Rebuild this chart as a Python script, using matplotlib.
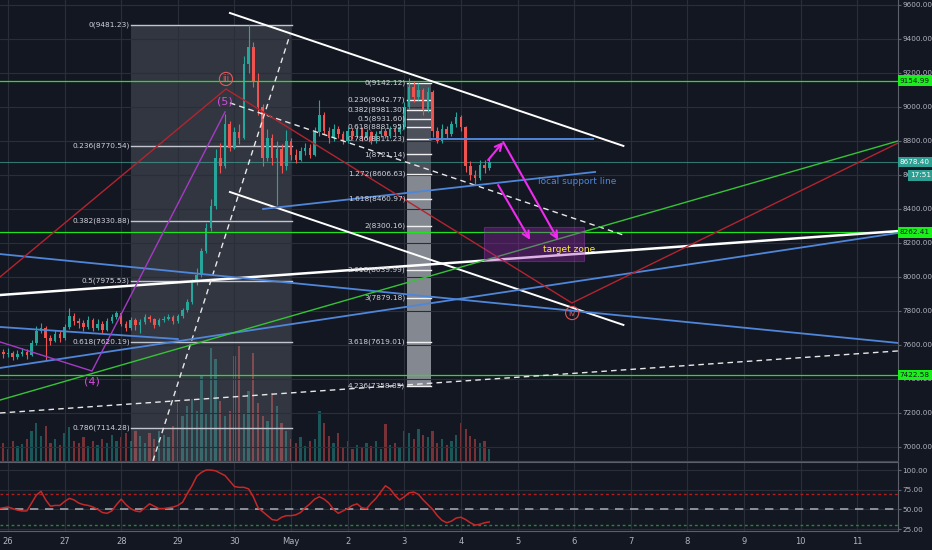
import numpy as np
import matplotlib
matplotlib.use('Agg')
import matplotlib.pyplot as plt
from matplotlib.patches import Rectangle
from matplotlib.transforms import blended_transform_factory

plt.rcParams['font.family'] = ['DejaVu Sans']

# BTC/USD, 2h candles, first candle Apr 25 20:00 (day 0 = Apr 26 00:00)
first_open = 7575
close = [7560, 7545, 7555, 7530, 7548, 7560, 7540, 7610, 7685, 7700,
         7640, 7625, 7665, 7640, 7705, 7770, 7740, 7730, 7705, 7745,
         7700, 7725, 7690, 7740, 7765, 7790, 7725, 7700, 7745, 7715,
         7735, 7765, 7750, 7720, 7745, 7755, 7765, 7740, 7770, 7805,
         7850, 7975, 8010, 8150, 8290, 8420, 8700, 8650, 8900, 8760,
         8850, 8820, 9250, 9350, 9150, 9000, 8700, 8820, 8700, 8750,
         8650, 8800, 8720, 8690, 8740, 8760, 8720, 8850, 8950, 8860,
         8820, 8870, 8840, 8800, 8860, 8830, 8870, 8820, 8850, 8800,
         8840, 8860, 8830, 8870, 8850, 8880, 9000, 9120, 9060, 9100,
         8980, 9090, 8860, 8800, 8870, 8840, 8900, 8940, 8880, 8650,
         8600, 8580, 8660, 8640, 8678]
high = [7600, 7575, 7580, 7565, 7570, 7585, 7575, 7630, 7710, 7730,
        7710, 7660, 7690, 7680, 7725, 7815, 7790, 7760, 7745, 7770,
        7760, 7750, 7740, 7760, 7785, 7800, 7795, 7740, 7765, 7760,
        7750, 7780, 7775, 7760, 7760, 7770, 7780, 7775, 7785, 7820,
        7870, 7990, 8050, 8170, 8320, 8460, 8750, 8790, 8960, 8920,
        8880, 8900, 9300, 9481, 9380, 9200, 9020, 8870, 8840, 8800,
        8780, 8865, 8820, 8750, 8765, 8790, 8780, 8880, 9040, 8970,
        8880, 8900, 8890, 8860, 8880, 8875, 8890, 8880, 8870, 8860,
        8860, 8880, 8875, 8890, 8885, 8900, 9030, 9170, 9150, 9140,
        9110, 9120, 9100, 8880, 8900, 8890, 8920, 8970, 8950, 8890,
        8680, 8630, 8690, 8690, 8700]
low = [7535, 7525, 7530, 7510, 7520, 7535, 7520, 7535, 7600, 7670,
       7510, 7600, 7615, 7620, 7630, 7695, 7720, 7700, 7680, 7695,
       7685, 7690, 7670, 7680, 7730, 7750, 7710, 7680, 7690, 7690,
       7670, 7725, 7735, 7700, 7710, 7735, 7745, 7725, 7730, 7760,
       7795, 7840, 7950, 8000, 8140, 8270, 8400, 8610, 8640, 8740,
       8750, 8780, 8810, 9200, 9120, 8950, 8650, 8680, 8660, 8424,
       8610, 8630, 8690, 8670, 8680, 8720, 8700, 8710, 8830, 8840,
       8790, 8800, 8820, 8780, 8790, 8810, 8820, 8800, 8805, 8780,
       8790, 8825, 8815, 8820, 8830, 8840, 8870, 8990, 9030, 9040,
       8950, 8970, 8823, 8790, 8790, 8820, 8830, 8880, 8860, 8620,
       8570, 8540, 8570, 8610, 8630]
volume = [14, 18, 12, 20, 15, 17, 22, 30, 38, 25,
          35, 18, 22, 16, 28, 34, 20, 18, 24, 15,
          20, 16, 22, 18, 26, 20, 24, 28, 20, 30,
          25, 18, 28, 22, 30, 26, 24, 35, 58, 45,
          55, 62, 50, 85, 48, 113, 102, 60, 45, 50,
          105, 115, 48, 70, 108, 58, 45, 40, 68, 55,
          38, 30, 22, 18, 24, 15, 20, 22, 50, 38,
          25, 18, 28, 14, 20, 12, 16, 14, 18, 15,
          20, 12, 37, 16, 18, 14, 30, 28, 22, 32,
          26, 24, 30, 18, 22, 16, 20, 26, 38, 32,
          25, 22, 18, 20, 12]
rsi = [51, 52, 53, 51, 49, 48, 48, 58, 68, 73,
       62, 54, 55, 55, 60, 64, 62, 58, 56, 55,
       53, 50, 46, 45, 48, 56, 63, 56, 51, 48,
       47, 52, 57, 54, 51, 51, 52, 53, 55, 59,
       70, 80, 92, 97, 100, 100, 99, 96, 93, 86,
       79, 78, 78, 76, 66, 52, 47, 42, 37, 36,
       40, 42, 42, 43, 46, 52, 57, 63, 66, 63,
       58, 50, 45, 48, 51, 55, 57, 52, 51, 58,
       64, 72, 80, 76, 68, 62, 66, 71, 72, 69,
       62, 56, 50, 42, 36, 33, 35, 39, 40, 37,
       33, 30, 31, 33, 34]

date_labels = ['26', '27', '28', '29', '30', 'May', '2', '3', '4', '5',
               '6', '7', '8', '9', '10', '11']
price_ticks = list(range(7000, 9601, 200))
rsi_ticks = [25, 50, 75, 100]

# fib retracement (left) and fib extension (narrow box)
fib1_ratios = ['0', '0.236', '0.382', '0.5', '0.618', '0.786']
fib1_prices = [9481.23, 8770.54, 8330.88, 7975.53, 7620.19, 7114.28]
fib1_days = (2.173, 5.018)
fib1_end = 6469.8
fib2_ratios = ['0', '0.236', '0.382', '0.5', '0.618', '0.786', '1', '1.272',
               '1.618', '2', '2.618', '3', '3.618', '4.236']
fib2_prices = [9142.12, 9042.77, 8981.30, 8931.60, 8881.95, 8811.23, 8721.14,
               8606.63, 8460.97, 8300.16, 8039.99, 7879.18, 7619.01, 7358.85]
fib2_days = (7.05, 7.473)

green_levels = [9154.99, 8262.41, 7422.58]
last_price = 8678.40

# drawings: (day, price) points
white_solid = [[(3.92, 9553), (10.87, 8771)],
               [(3.92, 8500), (10.87, 7718)]]
white_long = [(-0.141, 7894), (15.72, 8270)]
white_dashed = [[(2.56, 6918), (4.98, 9424)],
                [(3.92, 9024), (10.87, 8247)],
                [(-0.141, 7200), (15.72, 7565)]]
blue_lines = [[(-0.141, 8135), (15.72, 7612)],
              [(-0.141, 7706), (3.0, 7635)],
              [(-0.141, 7465), (15.72, 8259)],
              [(4.505, 8400), (10.37, 8618)]]
blue_level = [(7.456, 8811.23), (10.336, 8811.23)]
green_line = [(-0.141, 7276), (15.72, 8800)]
red_wave = [(-0.141, 8000), (3.85, 9106), (9.96, 7847), (15.72, 8788)]
purple_wave = [(-0.141, 7618), (1.484, 7447), (3.834, 8971)]
arrows = [((8.48, 8688), (8.746, 8794)),
          ((8.746, 8794), (9.717, 8218)),
          ((8.657, 8541), (9.223, 8218))]
target_days = (8.41, 10.18)
target_prices = (8094, 8294)

bg = '#131722'
grid_c = '#2a2e39'
txt_c = '#b2b5be'
up_c, dn_c = '#26a69a', '#ef5350'
blue = '#4f86d9'
magenta = '#ee2bee'
axis_fs = 5.2
fib_fs = 5.3

fig = plt.figure(figsize=(9.32, 5.5), dpi=100, facecolor=bg)
rect_main = [0, 89 / 550, 898 / 932, 461 / 550]
ax_vol = fig.add_axes(rect_main)
ax = fig.add_axes(rect_main)
ax_rsi = fig.add_axes([0, 19 / 550, 898 / 932, 69 / 550])

xlim = (-0.141, 15.72)
n = len(close)
t = (np.arange(n) * 2 - 4) / 24.0
opens = np.array([first_open] + close[:-1])
closes = np.array(close)
is_up = closes >= opens
cols = [up_c if u else dn_c for u in is_up]

# volume underneath
ax_vol.set_facecolor(bg)
ax_vol.bar(t, volume, width=0.04, color=cols, alpha=0.45, linewidth=0)
ax_vol.set_xlim(xlim)
ax_vol.set_ylim(0, 461)
ax_vol.axis('off')

# main pane
ax.patch.set_alpha(0)
ax.set_xlim(xlim)
ax.set_ylim(6917.6, 9629.4)
ax.set_xticks(range(16))
ax.set_xticklabels([])
ax.set_yticks(price_ticks)
ax.set_yticklabels(['%.2f' % p for p in price_ticks])
ax.yaxis.tick_right()
ax.tick_params(axis='y', color='#5d606b', labelcolor=txt_c, labelsize=axis_fs, length=2, pad=1)
ax.tick_params(axis='x', length=0)
ax.grid(color=grid_c, lw=0.8, zorder=0)
for s in ['top', 'left']:
    ax.spines[s].set_visible(False)
ax.spines['right'].set_color('#5d606b')
ax.spines['bottom'].set_color('#434651')

# fib retracement box
ax.add_patch(Rectangle((fib1_days[0], fib1_end), fib1_days[1] - fib1_days[0],
                       fib1_prices[0] - fib1_end, facecolor='#b2b5be', alpha=0.2,
                       lw=0, zorder=1))
for r, p in zip(fib1_ratios, fib1_prices):
    ax.plot(fib1_days, [p, p], color='#c3c6ce', lw=1, zorder=2)
    ax.text(fib1_days[0] - 0.02, p, '%s(%.2f)' % (r, p), color='#d1d4dc', fontsize=fib_fs,
            ha='right', va='center', zorder=6)

# fib extension box
ax.add_patch(Rectangle((fib2_days[0], fib2_prices[7]), fib2_days[1] - fib2_days[0],
                       fib2_prices[0] - fib2_prices[7], facecolor='#d1d4dc', alpha=0.3,
                       lw=0, zorder=1))
ax.add_patch(Rectangle((fib2_days[0], fib2_prices[-1]), fib2_days[1] - fib2_days[0],
                       fib2_prices[7] - fib2_prices[-1], facecolor='#d1d4dc', alpha=0.6,
                       lw=0, zorder=1))
for r, p in zip(fib2_ratios, fib2_prices):
    ax.plot(fib2_days, [p, p], color='#f0f0f0', lw=1, zorder=2)
    ax.text(fib2_days[0] - 0.03, p, '%s(%.2f)' % (r, p), color='#d1d4dc', fontsize=fib_fs,
            ha='right', va='center', zorder=6)

# candles
ax.vlines(t, low, high, colors=cols, lw=0.8, zorder=3)
body = np.maximum(np.abs(closes - opens), 6)
ax.bar(t, body, bottom=np.minimum(opens, closes), width=0.045, color=cols, lw=0, zorder=3)

# horizontal levels
for p in green_levels:
    ax.axhline(p, color='#1ee31e', lw=0.9, zorder=4)
ax.axhline(last_price, color='#3f9e94', lw=0.8, alpha=0.7, zorder=2)
ax.plot(*zip(*blue_level), color=blue, lw=1.4, zorder=4)


def draw(pts, **kw):
    xs, ys = zip(*pts)
    ax.plot(xs, ys, zorder=4, **kw)


for ln in white_solid:
    draw(ln, color='white', lw=1.4)
draw(white_long, color='white', lw=1.8)
for ln in white_dashed:
    draw(ln, color='#e8e8e8', lw=1.0, dashes=(4, 3))
for ln in blue_lines:
    draw(ln, color=blue, lw=1.3)
draw(green_line, color='#35c435', lw=1.0)
draw(red_wave, color='#b3242f', lw=1.0)
draw(purple_wave, color='#a53bc4', lw=1.0)

# target zone
ax.add_patch(Rectangle((target_days[0], target_prices[0]), target_days[1] - target_days[0],
                       target_prices[1] - target_prices[0], facecolor='#9c27b0', alpha=0.35,
                       edgecolor='#b04fc8', lw=0.8, zorder=5))
ax.text(9.45, 8159, 'target zone', color='#ffeb3b', fontsize=6.5, ha='left', va='center', zorder=7)
ax.text(9.36, 8559, 'local support line', color=blue, fontsize=6.5, ha='left', va='center', zorder=7)

for (x0, y0), (x1, y1) in arrows:
    ax.annotate('', xy=(x1, y1), xytext=(x0, y0),
                arrowprops=dict(arrowstyle='->', color=magenta, lw=1.5, mutation_scale=12,
                                shrinkA=0, shrinkB=0), zorder=7)

# wave labels
for x, y, s in [(3.85, 9165, 'iii'), (9.965, 7788, 'iv')]:
    ax.text(x, y, s, color='#e0575b', fontsize=6, ha='center', va='center', zorder=7,
            bbox=dict(boxstyle='circle,pad=0.25', fc='none', ec='#e0575b', lw=0.8))
ax.text(3.834, 9035, '(5)', color='#d64bdc', fontsize=8, ha='center', va='center', zorder=7)
ax.text(1.484, 7388, '(4)', color='#d64bdc', fontsize=8, ha='center', va='center', zorder=7)

# price tags on the axis
tr = blended_transform_factory(ax.transAxes, ax.transData)
for p in green_levels:
    ax.text(1.002, p, '%.2f' % p, transform=tr, color='#131722', fontsize=axis_fs,
            ha='left', va='center', clip_on=False, zorder=10,
            bbox=dict(boxstyle='square,pad=0.3', fc='#19f019', ec='none'))
ax.text(1.002, last_price, '%.2f' % last_price, transform=tr, color='white', fontsize=axis_fs,
        ha='left', va='center', clip_on=False, zorder=10,
        bbox=dict(boxstyle='square,pad=0.3', fc='#2f9f93', ec='none'))
ax.text(1.014, 8598, '17:51', transform=tr, color='white', fontsize=axis_fs,
        ha='left', va='center', clip_on=False, zorder=10,
        bbox=dict(boxstyle='square,pad=0.3', fc='#2f9f93', ec='none'))

# RSI pane
ax_rsi.set_facecolor(bg)
ax_rsi.set_xlim(xlim)
ax_rsi.set_ylim(22.5, 110.2)
ax_rsi.plot(t, rsi, color='#c62828', lw=1.1, zorder=3)
ax_rsi.axhline(70, color='#b71c1c', lw=1, dashes=(2, 2))
ax_rsi.axhline(50, color='#a0a3ab', lw=1.2, dashes=(5, 4))
ax_rsi.axhline(30, color='#1e8c2e', lw=1, dashes=(2, 2))
ax_rsi.set_yticks(rsi_ticks)
ax_rsi.set_yticklabels(['%.2f' % v for v in rsi_ticks])
ax_rsi.yaxis.tick_right()
ax_rsi.set_xticks(range(16))
ax_rsi.set_xticklabels(date_labels)
ax_rsi.tick_params(axis='y', color='#5d606b', labelcolor=txt_c, labelsize=axis_fs, length=2, pad=1)
ax_rsi.tick_params(axis='x', length=0, labelcolor=txt_c, labelsize=6, pad=4)
ax_rsi.grid(color=grid_c, lw=0.8, zorder=0)
ax_rsi.spines['left'].set_visible(False)
for s in ['top', 'bottom', 'right']:
    ax_rsi.spines[s].set_color('#5d606b')

fig.savefig('out.png', dpi=100, facecolor=bg)
